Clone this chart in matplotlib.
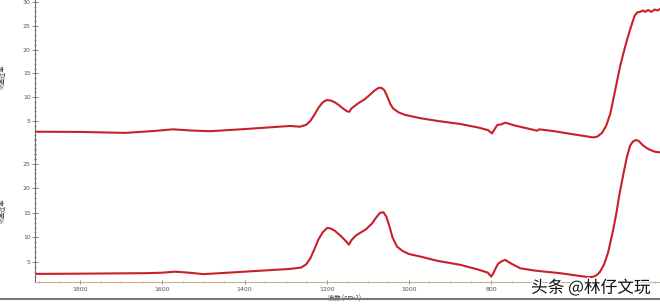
import matplotlib
matplotlib.use('Agg')
import matplotlib.pyplot as plt
from matplotlib.ticker import MultipleLocator
from matplotlib.lines import Line2D
import matplotlib.patheffects as pe

# wavenumber (cm-1) and % transmittance
wn_top = [1910, 1800, 1690, 1620, 1574, 1530, 1484, 1400, 1290, 1265, 1250,
          1240, 1230, 1220, 1210, 1200, 1190, 1180, 1170, 1160, 1150, 1145,
          1140, 1130, 1120, 1107, 1095, 1085, 1075, 1068, 1060, 1052, 1045,
          1038, 1025, 1010, 973, 930, 875, 830, 808, 798, 792, 785, 775, 766,
          740, 700, 688, 683, 650, 600, 570, 552, 542, 530, 520, 510, 503,
          493, 486, 479, 470, 462, 455, 450, 444, 438, 430, 425, 418, 410,
          402, 395, 389]
tr_top = [2.75, 2.7, 2.5, 2.9, 3.25, 3.0, 2.85, 3.3, 3.95, 3.8, 4.2,
          5.0, 6.3, 7.8, 8.9, 9.4, 9.3, 8.9, 8.3, 7.6, 7.0, 6.95,
          7.6, 8.3, 8.9, 9.6, 10.5, 11.3, 11.9, 12.0, 11.5, 10.0, 8.5,
          7.6, 6.8, 6.3, 5.6, 5.0, 4.37, 3.6, 3.1, 2.4, 3.2, 4.15, 4.3, 4.65,
          4.0, 3.2, 2.95, 3.25, 2.9, 2.2, 1.8, 1.55, 1.7, 2.5, 4.0, 6.5, 9.4,
          13.6, 16.5, 18.9, 21.8, 24.1, 26.0, 27.2, 27.8, 27.9, 28.2, 27.9,
          28.3, 27.9, 28.4, 28.2, 28.5]

wn_bot = [1910, 1800, 1640, 1600, 1569, 1535, 1500, 1400, 1289, 1262, 1250,
          1240, 1230, 1220, 1210, 1199, 1190, 1180, 1170, 1160, 1150, 1146,
          1140, 1130, 1119, 1105, 1090, 1080, 1070, 1062, 1055, 1048, 1040,
          1029, 1015, 1000, 973, 930, 875, 830, 808, 800, 795, 789, 783, 775,
          766, 750, 729, 700, 680, 632, 590, 564, 552, 543, 535, 525, 515,
          503, 495, 488, 479, 470, 462, 455, 448, 442, 436, 430, 420, 410,
          400, 389]
tr_bot = [2.55, 2.6, 2.7, 2.8, 3.0, 2.8, 2.5, 3.0, 3.57, 3.85, 4.5,
          5.7, 7.6, 9.6, 11.0, 11.9, 11.8, 11.3, 10.6, 9.8, 8.9, 8.5,
          9.4, 10.3, 10.9, 11.6, 12.8, 14.0, 15.0, 15.1, 14.2, 12.4, 10.0,
          8.1, 7.2, 6.6, 6.1, 5.2, 4.4, 3.4, 2.8, 2.0, 2.6, 3.7, 4.6, 5.1,
          5.4, 4.6, 3.7, 3.3, 3.1, 2.7, 2.2, 1.9, 1.95, 2.3, 3.0, 4.5, 7.0,
          11.5, 15.0, 18.6, 22.5, 26.2, 28.6, 29.5, 29.8, 29.7, 29.2, 28.7,
          28.1, 27.7, 27.4, 27.3]

red = '#c8202a'
gray = '#707070'
cjk = ['Noto Sans CJK SC', 'DejaVu Sans']

fig = plt.figure(figsize=(6.6, 3.06), dpi=100)
fig.patch.set_facecolor('white')

ax_top = fig.add_axes([0.053, 0.477, 0.947, 0.523])
ax_bot = fig.add_axes([0.053, 0.0784, 0.947, 0.467])

for ax in (ax_top, ax_bot):
    ax.patch.set_alpha(0)
    ax.set_xlim(1910, 389)
    for s in ('top', 'right'):
        ax.spines[s].set_visible(False)
    ax.spines['left'].set_color(gray)
    ax.spines['left'].set_linewidth(0.8)
    ax.yaxis.set_major_locator(MultipleLocator(5))
    ax.yaxis.set_minor_locator(MultipleLocator(1))
    ax.tick_params(axis='y', which='major', direction='inout', length=4,
                   width=0.6, color=gray, labelsize=4.5, labelcolor='#555555', pad=1)
    ax.tick_params(axis='y', which='minor', direction='inout', length=2,
                   width=0.5, color=gray)
    ax.set_ylabel('%透过率', family=cjk, fontsize=4.5, color='#333333', labelpad=10)

ax_top.plot(wn_top, tr_top, color=red, lw=1.5, solid_joinstyle='round')
ax_top.set_ylim(-3.2, 30.4)
ax_top.set_yticks([5, 10, 15, 20, 25, 30])
ax_top.spines['bottom'].set_visible(False)
ax_top.set_xticks([])
ax_top.yaxis.set_label_coords(-0.045, 0.52)

ax_bot.plot(wn_bot, tr_bot, color=red, lw=1.5, solid_joinstyle='round')
ax_bot.set_ylim(0.9, 30.0)
ax_bot.set_yticks([5, 10, 15, 20, 25])
ax_bot.spines['bottom'].set_color('#c8b48a')
ax_bot.spines['bottom'].set_linewidth(0.8)
ax_bot.set_xticks([1800, 1600, 1400, 1200, 1000, 800])
ax_bot.xaxis.set_minor_locator(MultipleLocator(50))
ax_bot.tick_params(axis='x', which='major', direction='inout', length=3,
                   width=0.6, color=gray, labelsize=4.5, labelcolor='#555555', pad=2)
ax_bot.tick_params(axis='x', which='minor', direction='inout', length=2,
                   width=0.5, color=gray)
ax_bot.set_xlabel('波数 (cm-1)', family=cjk, fontsize=4.5, color='#333333', labelpad=1)
ax_bot.xaxis.set_label_coords(0.496, -0.085)
ax_bot.yaxis.set_label_coords(-0.045, 0.5)

# window border line at the bottom of the screenshot
fig.add_artist(Line2D([0, 1], [1 - 299 / 306, 1 - 299 / 306], color='#777777', lw=1.5))

fig.text(0.895, 1 - 288 / 306, '头条 @林仔文玩', family=cjk, fontsize=12,
         color='#111111', ha='center', va='center',
         path_effects=[pe.withStroke(linewidth=2, foreground='white')])

fig.savefig('out.png', dpi=100, facecolor='white')
